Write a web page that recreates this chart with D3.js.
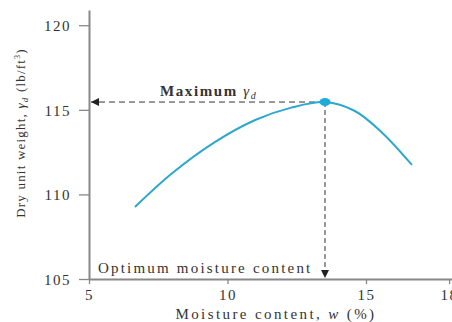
<!DOCTYPE html>
<html>
<head>
<meta charset="utf-8">
<script src="https://cdn.jsdelivr.net/npm/d3@7"></script>
<style>
  body { margin: 0; background: #fff; }
  text { font-family: "Liberation Serif", "DejaVu Serif", serif; fill: #333; }
</style>
</head>
<body>
<div id="chart"></div>
<script>
// chart values
var moisture = [6.66, 8.0, 9.5, 11.0, 12.3, 13.52, 14.6, 15.6, 16.66];
var dryWeight = [109.26, 111.25, 113.05, 114.4, 115.13, 115.46, 114.93, 113.62, 111.74];
var optimum = [13.52, 115.46];
var xTicks = [5, 10, 15, 18];
var yTicks = [105, 110, 115, 120];

var svgWidth = 452;
var svgHeight = 322;

var margin = { top: 10, right: 0, bottom: 43, left: 89 };
var width = svgWidth - margin.left - margin.right;
var height = svgHeight - margin.top - margin.bottom;

var svg = d3.select("#chart")
  .append("svg")
  .attr("width", svgWidth)
  .attr("height", svgHeight);

var defs = svg.append("defs");
defs.append("marker")
  .attr("id", "arrow")
  .attr("viewBox", "0 0 10 10")
  .attr("refX", 10)
  .attr("refY", 5)
  .attr("markerWidth", 8)
  .attr("markerHeight", 8)
  .attr("markerUnits", "userSpaceOnUse")
  .attr("orient", "auto")
  .append("path")
  .attr("d", "M0,0 L10,5 L0,10 z")
  .attr("fill", "#222");

var chartGroup = svg.append("g")
  .attr("transform", `translate(${margin.left}, ${margin.top})`);

// x: 27.7 px per percent, y: 16.9 px per lb/ft3
var x = d3.scaleLinear().domain([5, 5 + width / 27.7]).range([0, width]);
var y = d3.scaleLinear().domain([105, 120.9]).range([height, 0]);

// axes
var xAxis = chartGroup.append("g")
  .attr("transform", `translate(0, ${height})`)
  .call(d3.axisBottom(x).tickValues(xTicks).tickSize(5).tickPadding(5).tickSizeOuter(0));

var yAxis = chartGroup.append("g")
  .call(d3.axisLeft(y).tickValues(yTicks).tickSize(10).tickPadding(8).tickSizeOuter(0));

[xAxis, yAxis].forEach(function(a) {
  a.select(".domain").attr("stroke", "#888").attr("stroke-width", 2);
  a.selectAll(".tick line").attr("stroke", "#888").attr("stroke-width", 1.3);
  a.selectAll(".tick text")
    .attr("font-family", "Liberation Serif, serif")
    .attr("font-size", 15)
    .attr("fill", "#444")
    .style("letter-spacing", "1.5px");
});
yAxis.selectAll(".tick text").attr("dy", "0.35em");

// dashed guide lines
chartGroup.append("line")
  .attr("x1", x(optimum[0]))
  .attr("y1", y(optimum[1]))
  .attr("x2", x(5) + 2)
  .attr("y2", y(optimum[1]))
  .attr("stroke", "#333")
  .attr("stroke-width", 1)
  .attr("stroke-dasharray", "6,4")
  .attr("marker-end", "url(#arrow)");

chartGroup.append("line")
  .attr("x1", x(optimum[0]))
  .attr("y1", y(optimum[1]))
  .attr("x2", x(optimum[0]))
  .attr("y2", y(105) - 1)
  .attr("stroke", "#333")
  .attr("stroke-width", 1)
  .attr("stroke-dasharray", "5,3")
  .attr("marker-end", "url(#arrow)");

// curve
var line = d3.line()
  .x(function(d, i) { return x(moisture[i]); })
  .y(function(d) { return y(d); })
  .curve(d3.curveCatmullRom);

chartGroup.append("path")
  .datum(dryWeight)
  .attr("d", line)
  .attr("fill", "none")
  .attr("stroke", "#2ea7cf")
  .attr("stroke-width", 2);

chartGroup.append("ellipse")
  .attr("cx", x(optimum[0]))
  .attr("cy", y(optimum[1]))
  .attr("rx", 5.5)
  .attr("ry", 4)
  .attr("fill", "#1fa9dc");

// annotations
var maxLabel = chartGroup.append("text")
  .attr("x", 71)
  .attr("y", y(optimum[1]) - 6)
  .attr("font-size", 15)
  .attr("font-weight", "bold")
  .style("letter-spacing", "1.6px");
maxLabel.append("tspan").text("Maximum ");
maxLabel.append("tspan").attr("font-style", "italic").attr("font-weight", "normal").text("γ");
maxLabel.append("tspan").attr("font-style", "italic").attr("font-weight", "normal")
  .attr("font-size", 10).attr("dy", 3).text("d");

chartGroup.append("text")
  .attr("x", 9)
  .attr("y", height - 6)
  .attr("font-size", 15)
  .style("letter-spacing", "2.2px")
  .text("Optimum moisture content");

// axis labels
var xLabel = chartGroup.append("text")
  .attr("x", 187)
  .attr("y", height + 40)
  .attr("text-anchor", "middle")
  .attr("font-size", 15)
  .style("letter-spacing", "2.4px");
xLabel.append("tspan").text("Moisture content, ");
xLabel.append("tspan").attr("font-style", "italic").text("w");
xLabel.append("tspan").text(" (%)");

var yLabel = chartGroup.append("text")
  .attr("transform", `translate(-64, 123)rotate(-90)`)
  .attr("text-anchor", "middle")
  .attr("font-size", 13)
  .style("letter-spacing", "1.2px");
yLabel.append("tspan").text("Dry unit weight, ");
yLabel.append("tspan").attr("font-style", "italic").text("γ");
yLabel.append("tspan").attr("font-style", "italic").attr("font-size", 9).attr("dy", 3).text("d");
yLabel.append("tspan").attr("dy", -3).text(" (lb/ft");
yLabel.append("tspan").attr("font-size", 8).attr("dy", -5).text("3");
yLabel.append("tspan").attr("dy", 5).text(")");
</script>
</body>
</html>
